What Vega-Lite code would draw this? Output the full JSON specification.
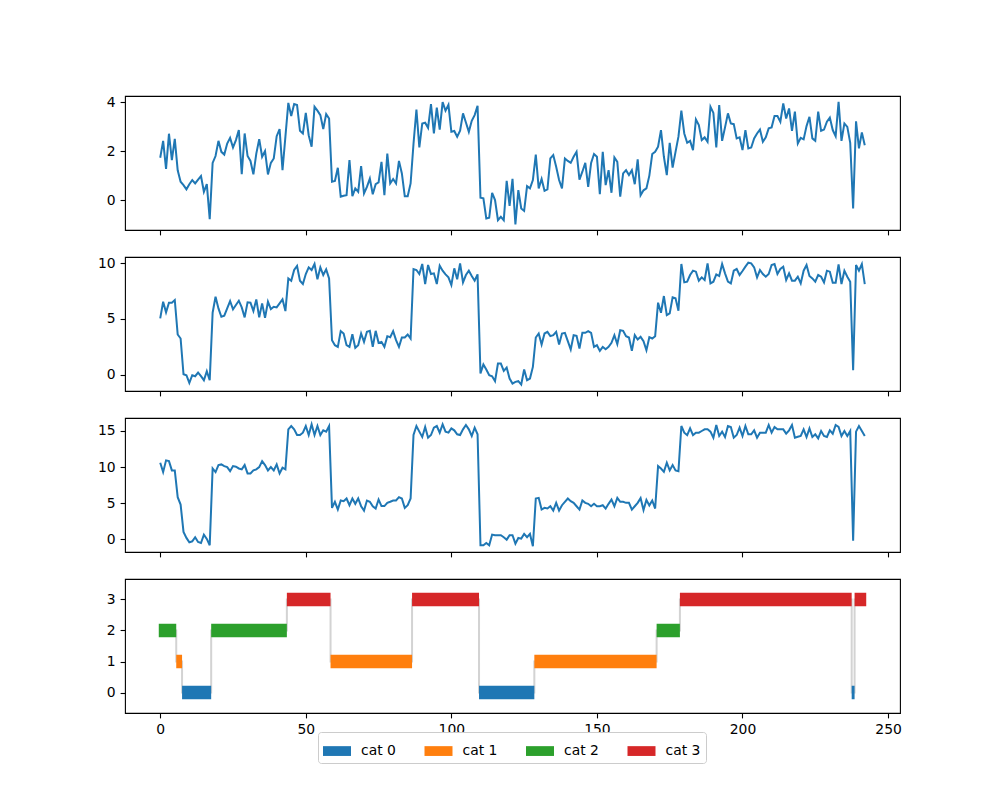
{
"$schema":"https://vega.github.io/schema/vega-lite/v6.json",
"padding":{"left":96,"top":94,"right":5,"bottom":5},
"bounds":"flush",
"spacing":27,
"config":{
 "font":"DejaVu Sans",
 "view":{"stroke":"#000000","strokeWidth":1.1},
 "axis":{"domain":false,"grid":false,"tickColor":"#000000","tickSize":4.9,"tickWidth":1.1,"labelColor":"#000000","labelFontSize":13.9,"labelFont":"DejaVu Sans","labelPadding":4.9,"title":null}
},
"datasets":{
"series":[
{"t":0,"a":1.73,"b":5.05,"c":10.6,"s":2},
{"t":1,"a":2.42,"b":6.55,"c":9.3,"s":2},
{"t":2,"a":1.27,"b":5.59,"c":10.93,"s":2},
{"t":3,"a":2.71,"b":6.46,"c":10.83,"s":2},
{"t":4,"a":1.63,"b":6.46,"c":9.54,"s":2},
{"t":5,"a":2.5,"b":6.7,"c":9.54,"s":2},
{"t":6,"a":1.22,"b":3.6,"c":5.83,"s":1},
{"t":7,"a":0.75,"b":3.24,"c":4.81,"s":1},
{"t":8,"a":0.61,"b":0.03,"c":1.02,"s":0},
{"t":9,"a":0.44,"b":-0.06,"c":0.19,"s":0},
{"t":10,"a":0.65,"b":-0.75,"c":-0.42,"s":0},
{"t":11,"a":0.82,"b":-0.06,"c":-0.28,"s":0},
{"t":12,"a":0.68,"b":-0.15,"c":0.28,"s":0},
{"t":13,"a":0.84,"b":0.18,"c":-0.37,"s":0},
{"t":14,"a":0.98,"b":-0.15,"c":-0.51,"s":0},
{"t":15,"a":0.34,"b":-0.51,"c":0.65,"s":0},
{"t":16,"a":0.65,"b":0.3,"c":0.05,"s":0},
{"t":17,"a":-0.78,"b":-0.51,"c":-0.83,"s":0},
{"t":18,"a":1.52,"b":5.56,"c":9.81,"s":2},
{"t":19,"a":1.8,"b":7.0,"c":9.3,"s":2},
{"t":20,"a":2.42,"b":5.95,"c":10.28,"s":2},
{"t":21,"a":1.97,"b":5.2,"c":10.37,"s":2},
{"t":22,"a":1.86,"b":5.29,"c":10.14,"s":2},
{"t":23,"a":2.31,"b":5.95,"c":10.0,"s":2},
{"t":24,"a":2.54,"b":6.61,"c":9.44,"s":2},
{"t":25,"a":2.15,"b":5.86,"c":10.14,"s":2},
{"t":26,"a":2.45,"b":6.25,"c":10.05,"s":2},
{"t":27,"a":2.86,"b":6.64,"c":9.81,"s":2},
{"t":28,"a":1.06,"b":6.04,"c":9.68,"s":2},
{"t":29,"a":2.72,"b":5.14,"c":10.28,"s":2},
{"t":30,"a":1.8,"b":6.49,"c":9.12,"s":2},
{"t":31,"a":1.6,"b":6.46,"c":9.12,"s":2},
{"t":32,"a":1.05,"b":5.71,"c":9.54,"s":2},
{"t":33,"a":1.9,"b":6.76,"c":9.68,"s":2},
{"t":34,"a":2.49,"b":5.14,"c":10.0,"s":2},
{"t":35,"a":1.77,"b":6.4,"c":10.83,"s":2},
{"t":36,"a":2.0,"b":5.1,"c":10.28,"s":2},
{"t":37,"a":1.05,"b":6.55,"c":9.54,"s":2},
{"t":38,"a":1.52,"b":5.89,"c":10.0,"s":2},
{"t":39,"a":1.7,"b":6.1,"c":9.54,"s":2},
{"t":40,"a":2.61,"b":6.04,"c":10.37,"s":2},
{"t":41,"a":2.9,"b":6.4,"c":9.12,"s":2},
{"t":42,"a":1.22,"b":6.76,"c":9.91,"s":2},
{"t":43,"a":2.59,"b":5.71,"c":9.68,"s":2},
{"t":44,"a":3.97,"b":8.65,"c":15.23,"s":3},
{"t":45,"a":3.43,"b":8.44,"c":15.69,"s":3},
{"t":46,"a":3.92,"b":9.4,"c":15.23,"s":3},
{"t":47,"a":3.88,"b":9.76,"c":14.44,"s":3},
{"t":48,"a":2.83,"b":8.44,"c":14.44,"s":3},
{"t":49,"a":2.72,"b":8.14,"c":14.77,"s":3},
{"t":50,"a":3.56,"b":9.04,"c":15.69,"s":3},
{"t":51,"a":2.65,"b":9.64,"c":14.44,"s":3},
{"t":52,"a":2.18,"b":9.4,"c":15.93,"s":3},
{"t":53,"a":3.81,"b":9.94,"c":14.44,"s":3},
{"t":54,"a":3.65,"b":8.56,"c":15.69,"s":3},
{"t":55,"a":3.47,"b":9.64,"c":14.44,"s":3},
{"t":56,"a":2.9,"b":8.95,"c":15.09,"s":3},
{"t":57,"a":3.51,"b":9.46,"c":14.91,"s":3},
{"t":58,"a":3.33,"b":8.65,"c":15.69,"s":3},
{"t":59,"a":0.75,"b":3.09,"c":4.35,"s":1},
{"t":60,"a":0.78,"b":2.64,"c":5.19,"s":1},
{"t":61,"a":1.32,"b":2.49,"c":4.12,"s":1},
{"t":62,"a":0.14,"b":3.9,"c":5.37,"s":1},
{"t":63,"a":0.18,"b":3.69,"c":5.28,"s":1},
{"t":64,"a":0.2,"b":2.64,"c":5.65,"s":1},
{"t":65,"a":1.63,"b":2.49,"c":4.72,"s":1},
{"t":66,"a":0.16,"b":3.63,"c":5.65,"s":1},
{"t":67,"a":0.48,"b":2.4,"c":4.91,"s":1},
{"t":68,"a":0.34,"b":2.64,"c":5.65,"s":1},
{"t":69,"a":1.39,"b":3.69,"c":4.58,"s":1},
{"t":70,"a":0.27,"b":2.94,"c":3.98,"s":1},
{"t":71,"a":0.54,"b":3.84,"c":5.37,"s":1},
{"t":72,"a":0.88,"b":3.93,"c":5.19,"s":1},
{"t":73,"a":0.24,"b":2.49,"c":4.58,"s":1},
{"t":74,"a":0.65,"b":3.93,"c":4.26,"s":1},
{"t":75,"a":0.72,"b":2.85,"c":5.51,"s":1},
{"t":76,"a":1.56,"b":2.94,"c":4.6,"s":1},
{"t":77,"a":0.2,"b":2.49,"c":4.6,"s":1},
{"t":78,"a":1.9,"b":3.45,"c":5.05,"s":1},
{"t":79,"a":0.68,"b":3.36,"c":5.2,"s":1},
{"t":80,"a":0.86,"b":3.9,"c":5.37,"s":1},
{"t":81,"a":0.68,"b":3.09,"c":5.37,"s":1},
{"t":82,"a":1.6,"b":2.49,"c":5.83,"s":1},
{"t":83,"a":1.09,"b":3.33,"c":5.65,"s":1},
{"t":84,"a":0.16,"b":3.33,"c":4.35,"s":1},
{"t":85,"a":0.16,"b":3.6,"c":4.72,"s":1},
{"t":86,"a":0.68,"b":3.24,"c":5.65,"s":1},
{"t":87,"a":2.3,"b":9.49,"c":14.44,"s":3},
{"t":88,"a":3.7,"b":9.4,"c":15.69,"s":3},
{"t":89,"a":2.15,"b":9.04,"c":14.91,"s":3},
{"t":90,"a":3.13,"b":9.94,"c":14.17,"s":3},
{"t":91,"a":3.16,"b":8.14,"c":15.56,"s":3},
{"t":92,"a":2.95,"b":9.85,"c":14.07,"s":3},
{"t":93,"a":3.92,"b":9.04,"c":14.44,"s":3},
{"t":94,"a":2.72,"b":9.1,"c":15.46,"s":3},
{"t":95,"a":3.78,"b":8.14,"c":15.69,"s":3},
{"t":96,"a":2.88,"b":9.79,"c":14.77,"s":3},
{"t":97,"a":4.0,"b":9.34,"c":15.93,"s":3},
{"t":98,"a":3.65,"b":9.01,"c":14.91,"s":3},
{"t":99,"a":3.89,"b":8.74,"c":14.77,"s":3},
{"t":100,"a":2.79,"b":8.05,"c":15.37,"s":3},
{"t":101,"a":2.82,"b":9.55,"c":15.09,"s":3},
{"t":102,"a":2.59,"b":8.56,"c":14.54,"s":3},
{"t":103,"a":2.83,"b":10.0,"c":14.44,"s":3},
{"t":104,"a":3.54,"b":8.29,"c":15.23,"s":3},
{"t":105,"a":3.17,"b":8.95,"c":15.83,"s":3},
{"t":106,"a":2.79,"b":9.34,"c":15.23,"s":3},
{"t":107,"a":3.24,"b":8.86,"c":14.31,"s":3},
{"t":108,"a":3.47,"b":8.44,"c":15.46,"s":3},
{"t":109,"a":3.85,"b":9.01,"c":14.54,"s":3},
{"t":110,"a":0.1,"b":0.09,"c":-0.83,"s":0},
{"t":111,"a":0.07,"b":0.9,"c":-0.83,"s":0},
{"t":112,"a":-0.75,"b":0.45,"c":-0.51,"s":0},
{"t":113,"a":-0.72,"b":-0.06,"c":-0.83,"s":0},
{"t":114,"a":0.3,"b":-0.15,"c":0.65,"s":0},
{"t":115,"a":0.0,"b":-0.6,"c":0.56,"s":0},
{"t":116,"a":-0.82,"b":0.99,"c":0.56,"s":0},
{"t":117,"a":-0.68,"b":0.99,"c":0.56,"s":0},
{"t":118,"a":-0.82,"b":0.33,"c":0.28,"s":0},
{"t":119,"a":0.79,"b":0.63,"c":-0.05,"s":0},
{"t":120,"a":-0.24,"b":-0.36,"c":0.56,"s":0},
{"t":121,"a":0.87,"b":-0.81,"c":0.56,"s":0},
{"t":122,"a":-0.99,"b":-0.66,"c":-0.6,"s":0},
{"t":123,"a":0.41,"b":-0.6,"c":0.19,"s":0},
{"t":124,"a":-0.34,"b":-0.9,"c":0.09,"s":0},
{"t":125,"a":-0.44,"b":0.45,"c":0.74,"s":0},
{"t":126,"a":0.57,"b":-0.51,"c":0.28,"s":0},
{"t":127,"a":0.48,"b":-0.36,"c":0.74,"s":0},
{"t":128,"a":0.82,"b":0.69,"c":-0.97,"s":0},
{"t":129,"a":1.86,"b":3.33,"c":5.65,"s":1},
{"t":130,"a":0.48,"b":3.69,"c":5.74,"s":1},
{"t":131,"a":0.86,"b":2.7,"c":4.12,"s":1},
{"t":132,"a":0.38,"b":3.69,"c":4.35,"s":1},
{"t":133,"a":0.44,"b":3.84,"c":4.26,"s":1},
{"t":134,"a":1.7,"b":3.45,"c":4.58,"s":1},
{"t":135,"a":1.84,"b":3.54,"c":3.98,"s":1},
{"t":136,"a":1.36,"b":3.84,"c":5.05,"s":1},
{"t":137,"a":0.82,"b":2.7,"c":3.98,"s":1},
{"t":138,"a":0.48,"b":3.69,"c":4.72,"s":1},
{"t":139,"a":1.7,"b":3.75,"c":5.19,"s":1},
{"t":140,"a":1.6,"b":3.0,"c":5.65,"s":1},
{"t":141,"a":1.52,"b":2.25,"c":5.28,"s":1},
{"t":142,"a":1.77,"b":3.54,"c":5.05,"s":1},
{"t":143,"a":1.97,"b":3.48,"c":4.58,"s":1},
{"t":144,"a":0.84,"b":2.34,"c":4.12,"s":1},
{"t":145,"a":1.16,"b":3.75,"c":5.37,"s":1},
{"t":146,"a":1.52,"b":3.75,"c":5.05,"s":1},
{"t":147,"a":0.54,"b":3.9,"c":4.91,"s":1},
{"t":148,"a":1.52,"b":3.75,"c":4.58,"s":1},
{"t":149,"a":1.88,"b":2.49,"c":4.91,"s":1},
{"t":150,"a":1.77,"b":2.64,"c":4.58,"s":1},
{"t":151,"a":0.24,"b":2.13,"c":4.58,"s":1},
{"t":152,"a":1.97,"b":2.49,"c":4.72,"s":1},
{"t":153,"a":0.61,"b":2.28,"c":4.26,"s":1},
{"t":154,"a":1.22,"b":2.49,"c":4.91,"s":1},
{"t":155,"a":0.3,"b":2.85,"c":5.51,"s":1},
{"t":156,"a":1.74,"b":3.54,"c":4.58,"s":1},
{"t":157,"a":1.56,"b":2.73,"c":5.74,"s":1},
{"t":158,"a":0.14,"b":3.99,"c":5.19,"s":1},
{"t":159,"a":1.09,"b":3.93,"c":5.19,"s":1},
{"t":160,"a":1.22,"b":3.45,"c":5.05,"s":1},
{"t":161,"a":1.02,"b":3.33,"c":5.05,"s":1},
{"t":162,"a":1.22,"b":2.13,"c":4.12,"s":1},
{"t":163,"a":0.65,"b":3.54,"c":4.58,"s":1},
{"t":164,"a":1.66,"b":3.15,"c":5.05,"s":1},
{"t":165,"a":0.2,"b":3.39,"c":5.7,"s":1},
{"t":166,"a":0.4,"b":3.0,"c":4.05,"s":1},
{"t":167,"a":0.48,"b":2.19,"c":5.45,"s":1},
{"t":168,"a":1.0,"b":3.36,"c":4.7,"s":1},
{"t":169,"a":1.88,"b":3.24,"c":5.37,"s":1},
{"t":170,"a":1.97,"b":3.45,"c":4.26,"s":1},
{"t":171,"a":2.18,"b":6.46,"c":10.14,"s":2},
{"t":172,"a":2.86,"b":5.56,"c":9.81,"s":2},
{"t":173,"a":1.77,"b":7.06,"c":9.35,"s":2},
{"t":174,"a":1.02,"b":5.35,"c":10.6,"s":2},
{"t":175,"a":2.34,"b":5.5,"c":9.54,"s":2},
{"t":176,"a":1.33,"b":6.94,"c":10.28,"s":2},
{"t":177,"a":1.97,"b":6.85,"c":9.54,"s":2},
{"t":178,"a":2.59,"b":5.74,"c":9.44,"s":2},
{"t":179,"a":3.65,"b":9.94,"c":15.69,"s":3},
{"t":180,"a":2.72,"b":8.29,"c":14.77,"s":3},
{"t":181,"a":2.34,"b":8.35,"c":14.44,"s":3},
{"t":182,"a":2.42,"b":8.95,"c":15.37,"s":3},
{"t":183,"a":2.04,"b":9.34,"c":14.44,"s":3},
{"t":184,"a":3.29,"b":9.25,"c":14.77,"s":3},
{"t":185,"a":3.06,"b":8.44,"c":14.77,"s":3},
{"t":186,"a":2.45,"b":8.74,"c":15.0,"s":3},
{"t":187,"a":2.56,"b":8.5,"c":15.23,"s":3},
{"t":188,"a":2.38,"b":10.0,"c":15.23,"s":3},
{"t":189,"a":3.81,"b":8.2,"c":14.91,"s":3},
{"t":190,"a":3.56,"b":8.35,"c":14.07,"s":3},
{"t":191,"a":2.15,"b":9.01,"c":15.83,"s":3},
{"t":192,"a":3.88,"b":8.86,"c":14.31,"s":3},
{"t":193,"a":2.42,"b":9.94,"c":14.91,"s":3},
{"t":194,"a":2.97,"b":9.1,"c":14.17,"s":3},
{"t":195,"a":3.54,"b":8.35,"c":15.69,"s":3},
{"t":196,"a":3.13,"b":8.2,"c":15.56,"s":3},
{"t":197,"a":3.1,"b":9.34,"c":14.07,"s":3},
{"t":198,"a":2.52,"b":9.49,"c":14.44,"s":3},
{"t":199,"a":2.56,"b":8.95,"c":15.46,"s":3},
{"t":200,"a":2.04,"b":9.31,"c":14.31,"s":3},
{"t":201,"a":2.86,"b":9.7,"c":15.69,"s":3},
{"t":202,"a":2.11,"b":10.06,"c":14.54,"s":3},
{"t":203,"a":2.15,"b":10.0,"c":14.54,"s":3},
{"t":204,"a":2.52,"b":9.64,"c":15.09,"s":3},
{"t":205,"a":2.72,"b":8.74,"c":14.07,"s":3},
{"t":206,"a":2.88,"b":9.4,"c":14.77,"s":3},
{"t":207,"a":2.38,"b":9.04,"c":14.77,"s":3},
{"t":208,"a":2.56,"b":8.8,"c":14.77,"s":3},
{"t":209,"a":2.93,"b":9.04,"c":15.83,"s":3},
{"t":210,"a":2.97,"b":9.85,"c":14.77,"s":3},
{"t":211,"a":3.43,"b":9.94,"c":15.56,"s":3},
{"t":212,"a":3.43,"b":9.04,"c":15.23,"s":3},
{"t":213,"a":3.2,"b":9.49,"c":15.23,"s":3},
{"t":214,"a":3.95,"b":9.7,"c":15.23,"s":3},
{"t":215,"a":3.33,"b":8.5,"c":14.63,"s":3},
{"t":216,"a":3.74,"b":9.1,"c":15.09,"s":3},
{"t":217,"a":2.83,"b":8.44,"c":15.83,"s":3},
{"t":218,"a":3.61,"b":8.44,"c":14.07,"s":3},
{"t":219,"a":2.31,"b":8.8,"c":14.21,"s":3},
{"t":220,"a":2.54,"b":8.2,"c":14.31,"s":3},
{"t":221,"a":2.48,"b":9.34,"c":15.23,"s":3},
{"t":222,"a":3.02,"b":9.85,"c":14.17,"s":3},
{"t":223,"a":3.4,"b":8.86,"c":15.37,"s":3},
{"t":224,"a":2.52,"b":8.65,"c":14.17,"s":3},
{"t":225,"a":2.42,"b":8.35,"c":14.54,"s":3},
{"t":226,"a":3.61,"b":8.95,"c":13.98,"s":3},
{"t":227,"a":2.83,"b":8.8,"c":15.0,"s":3},
{"t":228,"a":2.88,"b":8.29,"c":14.31,"s":3},
{"t":229,"a":3.2,"b":9.34,"c":14.17,"s":3},
{"t":230,"a":3.37,"b":9.25,"c":15.09,"s":3},
{"t":231,"a":2.86,"b":8.26,"c":14.63,"s":3},
{"t":232,"a":2.61,"b":8.26,"c":15.83,"s":3},
{"t":233,"a":4.01,"b":9.91,"c":15.56,"s":3},
{"t":234,"a":2.42,"b":8.14,"c":14.31,"s":3},
{"t":235,"a":3.13,"b":9.34,"c":15.0,"s":3},
{"t":236,"a":2.99,"b":8.8,"c":14.31,"s":3},
{"t":237,"a":2.34,"b":8.35,"c":15.0,"s":3},
{"t":238,"a":-0.34,"b":0.39,"c":-0.19,"s":0},
{"t":239,"a":3.22,"b":9.85,"c":14.91,"s":3},
{"t":240,"a":2.11,"b":9.34,"c":15.69,"s":3},
{"t":241,"a":2.76,"b":9.94,"c":15.0,"s":3},
{"t":242,"a":2.24,"b":8.14,"c":14.31,"s":3}
],
"segments":[
{"start":-0.5,"end":5.5,"s":2,"cat":"cat 2"},
{"start":5.5,"end":7.5,"s":1,"cat":"cat 1"},
{"start":7.5,"end":17.5,"s":0,"cat":"cat 0"},
{"start":17.5,"end":43.5,"s":2,"cat":"cat 2"},
{"start":43.5,"end":58.5,"s":3,"cat":"cat 3"},
{"start":58.5,"end":86.5,"s":1,"cat":"cat 1"},
{"start":86.5,"end":109.5,"s":3,"cat":"cat 3"},
{"start":109.5,"end":128.5,"s":0,"cat":"cat 0"},
{"start":128.5,"end":170.5,"s":1,"cat":"cat 1"},
{"start":170.5,"end":178.5,"s":2,"cat":"cat 2"},
{"start":178.5,"end":237.5,"s":3,"cat":"cat 3"},
{"start":237.5,"end":238.5,"s":0,"cat":"cat 0"},
{"start":238.5,"end":242.5,"s":3,"cat":"cat 3"}
]
},
"vconcat":[
{"width":775,"height":134,"data":{"name":"series"},
 "mark":{"type":"line","color":"#1f77b4","strokeWidth":2},
 "encoding":{
  "x":{"field":"t","type":"quantitative","scale":{"domain":[-12.1,254.1],"nice":false,"zero":false},"axis":{"values":[0,50,100,150,200,250],"labels":false}},
  "y":{"field":"a","type":"quantitative","scale":{"domain":[-1.22,4.25],"nice":false,"zero":false},"axis":{"values":[0,2,4]}}}},
{"width":775,"height":134,"data":{"name":"series"},
 "mark":{"type":"line","color":"#1f77b4","strokeWidth":2},
 "encoding":{
  "x":{"field":"t","type":"quantitative","scale":{"domain":[-12.1,254.1],"nice":false,"zero":false},"axis":{"values":[0,50,100,150,200,250],"labels":false}},
  "y":{"field":"b","type":"quantitative","scale":{"domain":[-1.48,10.57],"nice":false,"zero":false},"axis":{"values":[0,5,10]}}}},
{"width":775,"height":134,"data":{"name":"series"},
 "mark":{"type":"line","color":"#1f77b4","strokeWidth":2},
 "encoding":{
  "x":{"field":"t","type":"quantitative","scale":{"domain":[-12.1,254.1],"nice":false,"zero":false},"axis":{"values":[0,50,100,150,200,250],"labels":false}},
  "y":{"field":"c","type":"quantitative","scale":{"domain":[-1.76,16.8],"nice":false,"zero":false},"axis":{"values":[0,5,10,15]}}}},
{"width":775,"height":134,
 "layer":[
  {"data":{"name":"series"},
   "mark":{"type":"line","interpolate":"step","color":"#d3d3d3","strokeWidth":2},
   "encoding":{
    "x":{"field":"t","type":"quantitative","scale":{"domain":[-12.1,254.1],"nice":false,"zero":false},"axis":{"values":[0,50,100,150,200,250]}},
    "y":{"field":"s","type":"quantitative","scale":{"domain":[-0.5,3.5],"nice":false,"zero":false},"axis":{"values":[0,1,2,3]}}}},
  {"data":{"name":"segments"},
   "mark":{"type":"bar","orient":"horizontal","height":13.5},
   "encoding":{
    "x":{"field":"start","type":"quantitative"},
    "x2":{"field":"end"},
    "y":{"field":"s","type":"quantitative"},
    "color":{"field":"cat","type":"nominal","scale":{"domain":["cat 0","cat 1","cat 2","cat 3"],"range":["#1f77b4","#ff7f0e","#2ca02c","#d62728"]},
     "legend":{"orient":"none","legendX":193,"legendY":636,"direction":"horizontal","columns":4,"title":null,"symbolType":"M-1,-0.35H1V0.35H-1Z","symbolSize":784,"symbolStrokeWidth":0,"labelFontSize":13.9,"labelFont":"DejaVu Sans","labelColor":"#000000","labelOffset":10,"columnPadding":28.5,"padding":5,"strokeColor":"#cccccc","fillColor":"#ffffff","cornerRadius":3}}}}
 ]}
]
}
